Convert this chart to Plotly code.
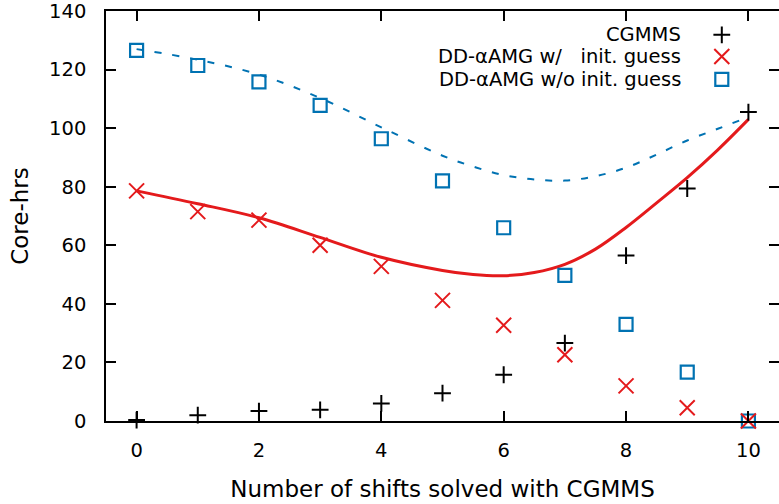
import plotly.graph_objects as go

# Number of shifts handed to CGMMS
shifts = [0, 1, 2, 3, 4, 5, 6, 7, 8, 9, 10]

# Core-hours per solver
cgmms = [0.3, 2.0, 3.4, 3.8, 6.0, 9.5, 15.8, 26.6, 56.5, 79.4, 105.5]
dd_with_guess = [78.6, 71.5, 68.6, 60.0, 52.8, 41.2, 32.7, 22.6, 12.0, 4.5, 0.0]
dd_without_guess = [126.6, 121.4, 115.8, 107.8, 96.4, 82.0, 66.0, 49.7, 33.0, 16.7, 0.0]

# Smoothed total-cost curves
fit_x = [0, 1, 2, 3, 4, 5, 5.5, 6, 6.5, 7, 7.5, 8, 8.5, 9, 9.5, 10]
fit_with_guess = [78.6, 74.2, 69.4, 62.7, 55.9, 51.4, 50.0, 49.6, 50.7, 53.5, 58.7,
                  66.1, 74.5, 83.1, 92.6, 103.0]
fit_without_guess = [127.0, 123.4, 118.3, 110.3, 100.3, 90.6, 86.9, 84.0, 82.5, 82.1, 83.6,
                     86.5, 91.0, 95.8, 99.8, 103.8]

x_ticks = [0, 2, 4, 6, 8, 10]
y_ticks = [0, 20, 40, 60, 80, 100, 120, 140]

legend_labels = ["CGMMS", "DD-\u03b1AMG w/\u00a0\u00a0\u00a0init. guess", "DD-\u03b1AMG w/o init. guess"]

RED = "#e41a1c"
BLUE = "#0072b2"
FONT = "DejaVu Sans"

fig = go.Figure()

fig.add_trace(go.Scatter(x=fit_x, y=fit_without_guess, mode="lines", line_shape="spline",
                         line=dict(color=BLUE, width=2, dash="7px,11px", smoothing=1.0), hoverinfo="skip"))
fig.add_trace(go.Scatter(x=fit_x, y=fit_with_guess, mode="lines", line_shape="spline",
                         line=dict(color=RED, width=3, smoothing=1.0), hoverinfo="skip"))

cross = dict(symbol="cross-thin", size=12, color="black", line=dict(color="black", width=2))
xmark = dict(symbol="x-thin", size=15, color=RED, line=dict(color=RED, width=2))
square = dict(symbol="square-open", size=13, color=BLUE, line=dict(color=BLUE, width=2.2))

fig.add_trace(go.Scatter(x=shifts, y=dd_without_guess, mode="markers", marker=square, cliponaxis=False))
fig.add_trace(go.Scatter(x=shifts, y=dd_with_guess, mode="markers", marker=xmark, cliponaxis=False))
fig.add_trace(go.Scatter(x=shifts, y=cgmms, mode="markers", marker=cross, cliponaxis=False))

# Key: labels on the left, symbol samples on the right, on an overlay axis in [0, 1]
key_rows = [0.942, 0.889, 0.833]
key_x = 0.915
for lab, yy, mk in zip(legend_labels, key_rows, [cross, xmark, square]):
    fig.add_trace(go.Scatter(x=[key_x], y=[yy], mode="markers", marker=mk,
                             xaxis="x2", yaxis="y2", cliponaxis=False))
    fig.add_annotation(x=0.858, y=yy, xref="x2", yref="y2", text=lab, showarrow=False,
                       xanchor="right", yanchor="middle", font=dict(family=FONT, size=19.5, color="black"))

axis_common = dict(showline=True, linecolor="black", linewidth=1.5, mirror="ticks",
                   ticks="inside", ticklen=10, tickwidth=1.5, tickcolor="black",
                   showgrid=False, zeroline=False, ticklabeloverflow="allow", automargin=False,
                   tickfont=dict(family=FONT, size=19.5, color="black"))

fig.update_layout(
    width=779, height=504,
    margin=dict(l=106, r=0, t=11, b=83),
    paper_bgcolor="white", plot_bgcolor="white",
    showlegend=False,
    xaxis=dict(range=[-0.5, 10.5], tickvals=x_ticks, ticklabelstandoff=11,
               title=dict(text="Number of shifts solved with CGMMS", standoff=20,
                          font=dict(family=FONT, size=23, color="black")),
               **axis_common),
    yaxis=dict(range=[0, 140.02], tickvals=y_ticks, ticklabelstandoff=14,
               title=dict(text="Core-hrs", standoff=14,
                          font=dict(family=FONT, size=23, color="black")),
               **axis_common),
    xaxis2=dict(range=[0, 1], overlaying="x", visible=False),
    yaxis2=dict(range=[0, 1], overlaying="y", visible=False),
)

fig.write_html("out.html")
